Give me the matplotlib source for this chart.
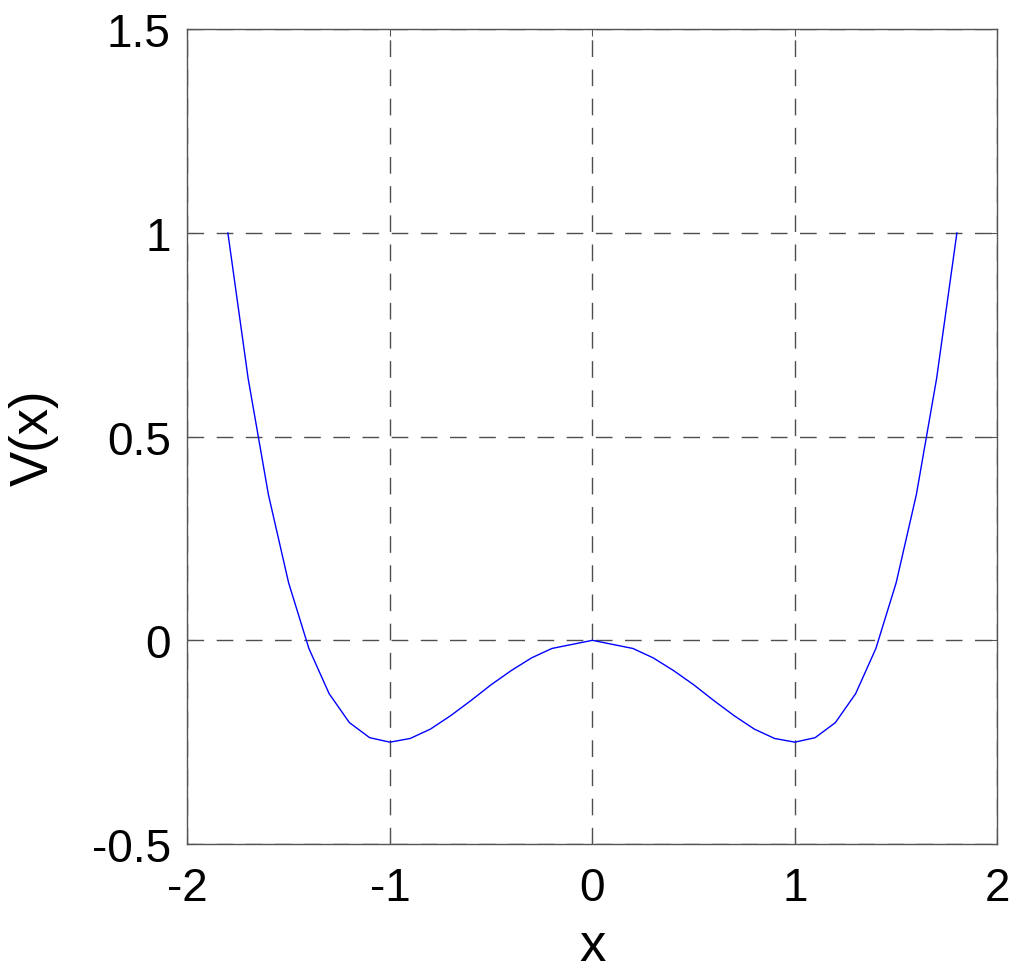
import matplotlib
matplotlib.use('Agg')
from matplotlib import pyplot as plt

# potential curve
x_vals = [-1.8, -1.7, -1.6, -1.5, -1.4, -1.3, -1.2, -1.1, -1.0, -0.9, -0.8, -0.7,
          -0.6, -0.5, -0.4, -0.3, -0.2, 0.0, 0.2, 0.3, 0.4, 0.5, 0.6,
          0.7, 0.8, 0.9, 1.0, 1.1, 1.2, 1.3, 1.4, 1.5, 1.6, 1.7, 1.8]
v_vals = [1.0, 0.643, 0.358, 0.141, -0.020, -0.131, -0.202, -0.239, -0.250, -0.241,
          -0.218, -0.185, -0.148, -0.109, -0.074, -0.043, -0.020, 0.0,
          -0.020, -0.043, -0.074, -0.109, -0.148, -0.185, -0.218, -0.241,
          -0.250, -0.239, -0.202, -0.131, -0.020, 0.141, 0.358, 0.643, 1.0]
x_ticks = [-2, -1, 0, 1, 2]
y_ticks = [-0.5, 0, 0.5, 1, 1.5]

plt.rcParams['font.family'] = ['Liberation Sans', 'DejaVu Sans']
plt.rcParams['axes.unicode_minus'] = False

fig = plt.figure(figsize=(10.24, 9.78), dpi=100)
ax = fig.add_axes([0.183, 0.136, 0.791, 0.833])

ax.plot(x_vals, v_vals, color='#0000ff', linewidth=1.0)

ax.set_xlim(-2, 2)
ax.set_ylim(-0.5, 1.5)
ax.set_xticks(x_ticks)
ax.set_yticks(y_ticks)
ax.set_xticklabels([str(t) for t in x_ticks])
ax.set_yticklabels(['-0.5', '0', '0.5', '1', '1.5'])
ax.grid(True, color='#222222', linestyle=(0, (12, 9)), linewidth=1.0, alpha=0.8)
ax.tick_params(axis='both', direction='in', length=5, labelsize=33, top=True,
               right=True, color='#555555')
ax.tick_params(axis='x', pad=16)
ax.tick_params(axis='y', pad=12)
for s in ax.spines.values():
    s.set_color('#555555')
    s.set_linewidth(1.0)

ax.set_xlabel('x', fontsize=38, labelpad=8)
ax.set_ylabel('V(x)', fontsize=38, labelpad=24)

fig.savefig('out.png', dpi=100)
